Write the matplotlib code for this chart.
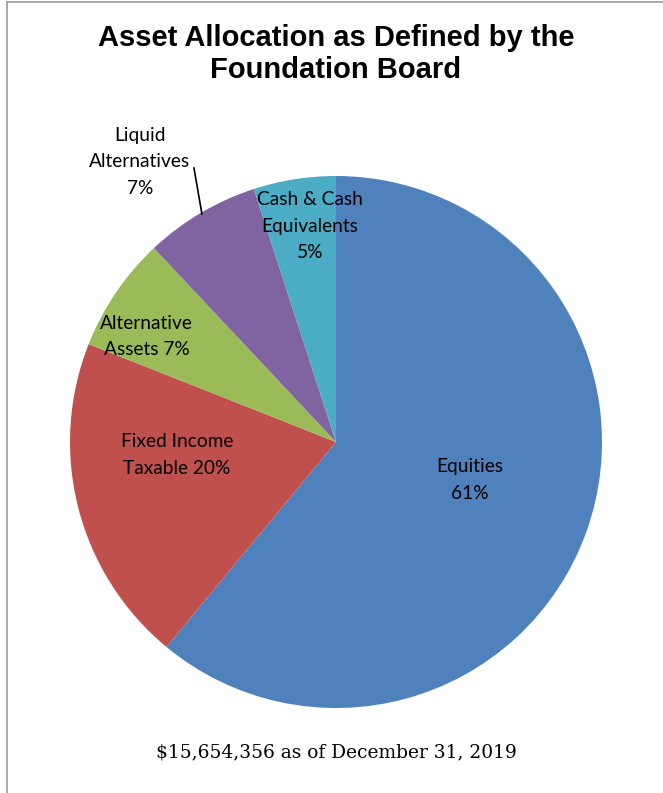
import matplotlib.pyplot as plt
from matplotlib.lines import Line2D

# data
categories = ["Equities", "Fixed Income Taxable", "Alternative Assets",
              "Liquid Alternatives", "Cash & Cash Equivalents"]
shares = [61, 20, 7, 7, 5]
labels = ["Equities\n61%", "Fixed Income\nTaxable 20%", "Alternative\nAssets 7%",
          "Liquid\nAlternatives\n7%", "Cash & Cash\nEquivalents\n5%"]
colors = ["#4F81BD", "#C0504D", "#9BBB59", "#8064A2", "#4BACC6"]

# label spots in pie units (radius 1)
label_pos = [(0.504, -0.143), (-0.598, -0.049), (-0.711, 0.395),
             (-0.737, 1.053), (-0.098, 0.812)]


def main():
    W, H = 663, 793
    fig = plt.figure(figsize=(W / 100, H / 100), dpi=100)
    fig.patch.set_facecolor("white")

    cx, cy, r = 336, 442, 266
    ax = fig.add_axes([(cx - r) / W, (H - cy - r) / H, 2 * r / W, 2 * r / H])
    ax.pie(shares, colors=colors, startangle=90, counterclock=False,
           radius=1, wedgeprops=dict(linewidth=0))
    ax.set_xlim(-1, 1)
    ax.set_ylim(-1, 1)
    ax.set_aspect("equal")
    ax.axis("off")

    for lab, (x, y) in zip(labels, label_pos):
        ax.text(x, y, lab, ha="center", va="center", fontsize=13.8,
                family="Lato", color="black", linespacing=1.65, clip_on=False)

    # leader line for Liquid Alternatives
    ax.plot([-0.534, -0.504], [1.030, 0.857], color="black", lw=1.2,
            clip_on=False)

    fig.text(cx / W, 1 - 54 / H,
             "Asset Allocation as Defined by the\nFoundation Board",
             ha="center", va="center", fontsize=21, fontweight="bold",
             family="Liberation Sans", linespacing=1.22)

    fig.text(cx / W, 1 - 752 / H, "$15,654,356 as of December 31, 2019",
             ha="center", va="center", fontsize=13.4, family="DejaVu Serif")

    # page frame
    fig.add_artist(Line2D([7 / W, 7 / W], [0, 1 - 2 / H], color="#999999", lw=1.2))
    fig.add_artist(Line2D([7 / W, 1], [1 - 2 / H, 1 - 2 / H], color="#999999", lw=1.2))

    fig.savefig("out.png", dpi=100)


if __name__ == "__main__":
    main()
